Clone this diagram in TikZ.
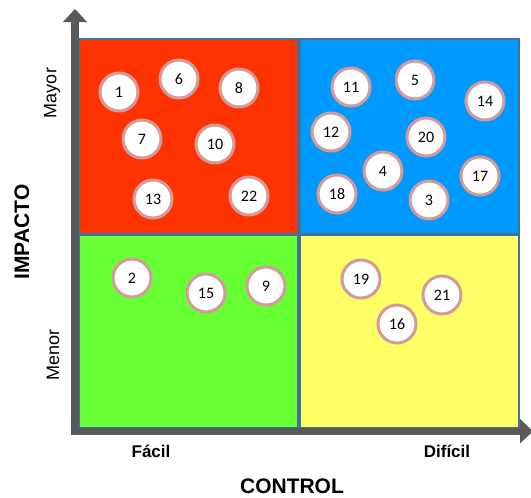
\documentclass[tikz,border=0pt]{standalone}
\usepackage{fontspec}
\setmainfont{Liberation Sans}
\newfontfamily\numfont{Carlito}
\definecolor{qred}{HTML}{FF3300}
\definecolor{qblue}{HTML}{0099FF}
\definecolor{qgreen}{HTML}{66FF33}
\definecolor{qyellow}{HTML}{FFFF66}
\definecolor{qedge}{HTML}{41719C}
\definecolor{axisgray}{HTML}{595959}
\definecolor{ringpink}{HTML}{D49A9A}
\tikzset{
  quad/.style={draw=qedge, line width=2pt},
  item/.style={circle, fill=white, draw=ringpink, line width=3pt,
    minimum size=38pt, inner sep=0pt, font=\numfont\fontsize{16}{16}\selectfont},
  axislabel/.style={font=\bfseries\fontsize{21}{21}\selectfont},
  endlabel/.style={font=\bfseries\fontsize{17}{17}\selectfont},
  levellabel/.style={font=\fontsize{18}{18}\selectfont, rotate=90}
}
\begin{document}
\begin{tikzpicture}[x=1pt, y=-1pt]
\useasboundingbox (0,0) rectangle (531,498);

% quadrants
\fill[qred, quad] (79,39) rectangle (298,234);
\fill[qblue, quad] (300,39) rectangle (519,234);
\fill[qgreen, quad] (79,235) rectangle (298,428);
\fill[qyellow, quad] (300,235) rectangle (519,428);

% axes
\fill[axisgray] (71,21) rectangle (79,435);
\fill[axisgray] (63,22) -- (75,9) -- (87,22) -- cycle;
\fill[axisgray] (71,427.5) rectangle (521,435);
\fill[axisgray] (520,419) -- (533,431.25) -- (520,443.5) -- cycle;

% items: high impact, easy control
\node[item] (c1) at (119,92) {1};
\node[item] (c6) at (179,79) {6};
\node[item] (c8) at (239,88) {8};
\node[item] (c7) at (142,139) {7};
\node[item] (c10) at (215,144) {10};
\node[item] (c13) at (153,199) {13};
\node[item] (c22) at (249,196) {22};

% items: high impact, hard control
\node[item] (c11) at (351,87) {11};
\node[item] (c5) at (415,80) {5};
\node[item] (c14) at (485,101) {14};
\node[item] (c12) at (331,132) {12};
\node[item] (c20) at (426,137) {20};
\node[item] (c4) at (383,171) {4};
\node[item] (c18) at (337,194) {18};
\node[item] (c3) at (429,200) {3};
\node[item] (c17) at (480,176) {17};

% items: low impact, easy control
\node[item] (c2) at (132,278) {2};
\node[item] (c15) at (206,293) {15};
\node[item] (c9) at (266,286) {9};

% items: low impact, hard control
\node[item] (c19) at (361,279) {19};
\node[item] (c21) at (442,295) {21};
\node[item] (c16) at (397,324) {16};

% labels
\node[axislabel, rotate=90] (impacto) at (22,232) {IMPACTO};
\node[axislabel] (control) at (292,486) {CONTROL};
\node[levellabel] (mayor) at (52,93) {Mayor};
\node[levellabel] (menor) at (53,355) {Menor};
\node[endlabel] (facil) at (151,451) {Fácil};
\node[endlabel] (dificil) at (447,451) {Difícil};
\end{tikzpicture}
\end{document}
